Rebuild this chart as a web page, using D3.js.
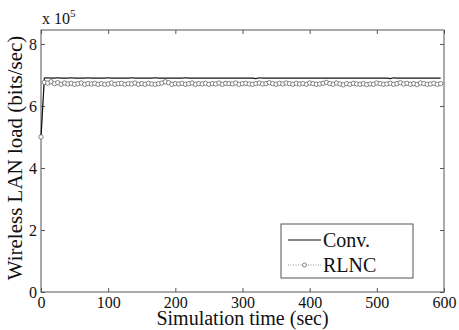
<!DOCTYPE html>
<html>
<head>
<meta charset="utf-8">
<script src="https://cdn.jsdelivr.net/npm/d3@7"></script>
<style>
  body { margin: 0; background: #fff; }
  text { font-family: "Liberation Serif", "Times New Roman", serif; }
</style>
</head>
<body>
<div id="chart"></div>
<script>
// sample times (sec), every 5 s
const times = d3.range(0, 600, 5);

// Conv. load, x 10^5 bits/sec
const convLoad = [
  5.00, 6.90, 6.91, 6.90, 6.90, 6.91, 6.90, 6.90, 6.90, 6.91,
  6.90, 6.90, 6.90, 6.90, 6.91, 6.90, 6.90, 6.90, 6.90, 6.90,
  6.91, 6.90, 6.90, 6.90, 6.90, 6.90, 6.90, 6.91, 6.90, 6.90,
  6.90, 6.90, 6.90, 6.90, 6.91, 6.90, 6.90, 6.90, 6.90, 6.90,
  6.90, 6.90, 6.90, 6.91, 6.90, 6.90, 6.90, 6.90, 6.90, 6.90,
  6.90, 6.90, 6.90, 6.90, 6.90, 6.90, 6.90, 6.90, 6.90, 6.90,
  6.90, 6.90, 6.90, 6.90, 6.88, 6.91, 6.90, 6.90, 6.90, 6.90,
  6.90, 6.90, 6.90, 6.90, 6.90, 6.90, 6.90, 6.90, 6.90, 6.90,
  6.90, 6.90, 6.90, 6.90, 6.90, 6.90, 6.90, 6.90, 6.90, 6.90,
  6.90, 6.90, 6.90, 6.90, 6.90, 6.90, 6.90, 6.90, 6.90, 6.90,
  6.90, 6.90, 6.90, 6.90, 6.88, 6.91, 6.90, 6.90, 6.90, 6.90,
  6.90, 6.90, 6.90, 6.90, 6.90, 6.90, 6.90, 6.90, 6.90, 6.90
];

// RLNC load, x 10^5 bits/sec
const rlncLoad = [
  5.00, 6.76, 6.74, 6.78, 6.72, 6.75, 6.70, 6.74, 6.71, 6.73,
  6.70, 6.72, 6.74, 6.70, 6.72, 6.71, 6.73, 6.70, 6.72, 6.70,
  6.71, 6.74, 6.70, 6.72, 6.73, 6.70, 6.72, 6.71, 6.74, 6.70,
  6.72, 6.70, 6.73, 6.71, 6.70, 6.72, 6.74, 6.78, 6.75, 6.70,
  6.72, 6.71, 6.73, 6.70, 6.72, 6.74, 6.70, 6.72, 6.71, 6.73,
  6.70, 6.72, 6.71, 6.74, 6.70, 6.73, 6.72, 6.71, 6.74, 6.70,
  6.72, 6.73, 6.71, 6.70, 6.72, 6.74, 6.71, 6.72, 6.75, 6.72,
  6.70, 6.73, 6.71, 6.74, 6.72, 6.70, 6.73, 6.71, 6.72, 6.70,
  6.74, 6.72, 6.70, 6.71, 6.73, 6.76, 6.72, 6.70, 6.74, 6.71,
  6.68, 6.72, 6.70, 6.73, 6.71, 6.70, 6.72, 6.69, 6.71, 6.70,
  6.74, 6.72, 6.70, 6.71, 6.73, 6.70, 6.72, 6.75, 6.71, 6.73,
  6.70, 6.72, 6.69, 6.74, 6.72, 6.70, 6.71, 6.73, 6.70, 6.72
];

const xTicks = [0, 100, 200, 300, 400, 500, 600];
const yTicks = [0, 2, 4, 6, 8];
const legendLabels = ["Conv.", "RLNC"];

const width = 459, height = 330;
const margin = { top: 30, right: 15, bottom: 38, left: 41 };
const iw = width - margin.left - margin.right;
const ih = height - margin.top - margin.bottom;

const svg = d3.select("#chart").append("svg")
  .attr("width", width).attr("height", height);

const x = d3.scaleLinear().domain([0, 600]).range([margin.left, margin.left + iw]);
const y = d3.scaleLinear().domain([0, 8.45]).range([margin.top + ih, margin.top]);

// frame
svg.append("rect")
  .attr("x", margin.left).attr("y", margin.top)
  .attr("width", iw).attr("height", ih)
  .attr("fill", "none").attr("stroke", "#555").attr("stroke-width", 1);

const tickLen = 4;
// bottom axis
svg.append("g").attr("transform", `translate(0,${margin.top + ih})`)
  .call(d3.axisBottom(x).tickValues(xTicks).tickSizeInner(-tickLen).tickSizeOuter(0).tickPadding(5));
// top ticks
svg.append("g").attr("transform", `translate(0,${margin.top})`)
  .call(d3.axisTop(x).tickValues(xTicks).tickSizeInner(-tickLen).tickSizeOuter(0).tickFormat(""));
// left axis
svg.append("g").attr("transform", `translate(${margin.left},0)`)
  .call(d3.axisLeft(y).tickValues(yTicks).tickSizeInner(-tickLen).tickSizeOuter(0).tickPadding(4));
// right ticks
svg.append("g").attr("transform", `translate(${margin.left + iw},0)`)
  .call(d3.axisRight(y).tickValues(yTicks).tickSizeInner(-tickLen).tickSizeOuter(0).tickFormat(""));

svg.selectAll(".domain").remove();
svg.selectAll(".tick line").attr("stroke", "#555");
svg.selectAll(".tick text").attr("fill", "#111")
  .style("font-family", "Liberation Serif").style("font-size", "16px");

// exponent label
const expo = svg.append("text").attr("x", 42).attr("y", 24)
  .attr("fill", "#111").style("font-size", "16px");
expo.append("tspan").text("x 10");
expo.append("tspan").attr("dy", -7).style("font-size", "11px").text("5");

// axis titles
svg.append("text")
  .attr("x", margin.left + iw / 2).attr("y", 325)
  .attr("text-anchor", "middle").attr("fill", "#111")
  .style("font-size", "20px").text("Simulation time (sec)");
svg.append("text")
  .attr("transform", `translate(22,${margin.top + ih / 2 - 3}) rotate(-90)`)
  .attr("text-anchor", "middle").attr("fill", "#111")
  .style("font-size", "21px").text("Wireless LAN load (bits/sec)");

// series
const convData = times.map((t, i) => ({ t, v: convLoad[i] }));
const rlncData = times.map((t, i) => ({ t, v: rlncLoad[i] }));
const line = d3.line().x(d => x(d.t)).y(d => y(d.v));

svg.append("path").datum(rlncData)
  .attr("d", line).attr("fill", "none")
  .attr("stroke", "#777").attr("stroke-width", 0.8).attr("stroke-dasharray", "1,1.5");
svg.append("path").datum(convData)
  .attr("d", line).attr("fill", "none")
  .attr("stroke", "#111").attr("stroke-width", 1.2);
svg.append("g").selectAll("circle").data(rlncData).join("circle")
  .attr("cx", d => x(d.t)).attr("cy", d => y(d.v)).attr("r", 2.2)
  .attr("fill", "#fff").attr("stroke", "#555").attr("stroke-width", 0.7);

// legend
const lg = svg.append("g");
lg.append("rect").attr("x", 281).attr("y", 224).attr("width", 132).attr("height", 54)
  .attr("fill", "#fff").attr("stroke", "#555");
lg.append("line").attr("x1", 288).attr("x2", 321).attr("y1", 240).attr("y2", 240)
  .attr("stroke", "#111").attr("stroke-width", 1.2);
lg.append("line").attr("x1", 288).attr("x2", 321).attr("y1", 265).attr("y2", 265)
  .attr("stroke", "#777").attr("stroke-width", 0.8).attr("stroke-dasharray", "1,1.5");
lg.append("circle").attr("cx", 304.5).attr("cy", 265).attr("r", 2)
  .attr("fill", "#fff").attr("stroke", "#555").attr("stroke-width", 0.7);
lg.selectAll("text.lab").data(legendLabels).join("text").attr("class", "lab")
  .attr("x", 323).attr("y", (d, i) => 247 + i * 25)
  .attr("fill", "#111").style("font-size", "20px").text(d => d);
</script>
</body>
</html>
